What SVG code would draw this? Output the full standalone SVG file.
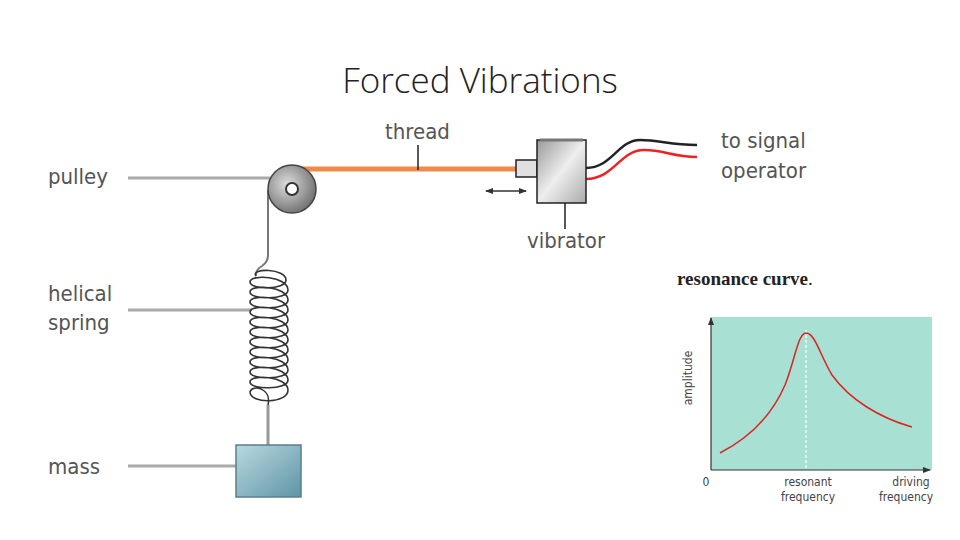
<svg xmlns="http://www.w3.org/2000/svg" width="960" height="540" viewBox="0 0 960 540">
<defs>
<style>
.lbl{font-family:"DejaVu Sans Condensed","Liberation Sans",sans-serif;font-size:22px;fill:#555}
.lead{stroke:#aaa;stroke-width:3;fill:none}
.sm{font-family:"DejaVu Sans Condensed","Liberation Sans",sans-serif;font-size:12px;fill:#444}
</style>
<linearGradient id="mg" x1="0" y1="0" x2="1" y2="1"><stop offset="0" stop-color="#b9d8df"/><stop offset="1" stop-color="#5f95a6"/></linearGradient>
<linearGradient id="vg" x1="0" y1="0" x2="1" y2="1"><stop offset="0" stop-color="#999"/><stop offset="0.5" stop-color="#eee"/><stop offset="1" stop-color="#aaa"/></linearGradient>
<radialGradient id="pg" cx="0.4" cy="0.4" r="0.7"><stop offset="0" stop-color="#ddd"/><stop offset="1" stop-color="#666"/></radialGradient>
<marker id="ah" markerWidth="8" markerHeight="8" refX="7" refY="4" orient="auto-start-reverse" markerUnits="userSpaceOnUse"><path d="M0,1 L8,4 L0,7 Z" fill="#333"/></marker>
</defs>
<rect width="960" height="540" fill="#fff"/>
<text x="480" y="93" text-anchor="middle" font-family="Open Sans,Liberation Sans,sans-serif" font-size="35" font-weight="300" fill="#222">Forced Vibrations</text>
<g id="connectors">
<line class="lead" x1="128" y1="178" x2="272" y2="178"/>
<line class="lead" x1="128" y1="310" x2="252" y2="310"/>
<line class="lead" x1="128" y1="466" x2="237" y2="466"/>
<line x1="300" y1="169" x2="518" y2="169" stroke="#f08a4b" stroke-width="5"/>
<line x1="418" y1="145" x2="418" y2="170" stroke="#222" stroke-width="1.5"/>
<line x1="565" y1="203" x2="565" y2="229" stroke="#222" stroke-width="1.5"/>
<line x1="486" y1="191" x2="526" y2="191" stroke="#333" stroke-width="1.5" marker-start="url(#ah)" marker-end="url(#ah)"/>
<path d="M268,190 L268,255 Q268,262 262,266 Q255,270 256,276" stroke="#777" stroke-width="2" fill="none"/>
<line x1="268" y1="405" x2="268" y2="446" stroke="#999" stroke-width="3"/>
<path d="M586,168 C612,168 618,140 640,140 C660,140 670,145 697,145" stroke="#222" stroke-width="2.5" fill="none"/>
<path d="M586,179 C614,179 620,150 644,150 C665,150 672,157 697,157" stroke="#e22" stroke-width="2.5" fill="none"/>
</g>
<g id="pulley">
<circle cx="292" cy="189" r="24" fill="url(#pg)" stroke="#444" stroke-width="1.5"/>
<circle cx="292" cy="189" r="6" fill="#fff" stroke="#333" stroke-width="2"/>
<text class="lbl" x="48" y="184">pulley</text>
</g>
<g id="spring" fill="none" stroke="#333" stroke-width="1.6">
<path d="M256,276 C250,268 286,268 286,280 C286,290 250,290 250,282"/>
<path d="M250,282 C250,274 288,276 288,290 C288,300 250,300 250,292 C250,284 288,286 288,300 C288,310 250,310 250,302 C250,294 288,296 288,310 C288,320 250,320 250,312 C250,304 288,306 288,320 C288,330 250,330 250,322 C250,314 288,316 288,330 C288,340 250,340 250,332 C250,324 288,326 288,340 C288,350 250,350 250,342 C250,334 288,336 288,350 C288,360 250,360 250,352 C250,344 288,346 288,360 C288,370 250,370 250,362 C250,354 288,356 288,370 C288,380 250,380 250,372 C250,364 288,366 288,380 C288,390 250,390 250,382 C250,374 288,376 288,390 C288,404 250,404 250,392 C252,384 272,388 268,405"/>
<text class="lbl" x="48" y="301" stroke="none">helical</text>
<text class="lbl" x="48" y="330" stroke="none">spring</text>
</g>
<g id="mass">
<rect x="236" y="445" width="65" height="52" fill="url(#mg)" stroke="#5a7f8c" stroke-width="1.5"/>
<text class="lbl" x="48" y="474">mass</text>
</g>
<g id="thread"><text class="lbl" x="385" y="139">thread</text></g>
<g id="vibrator">
<rect x="516" y="160" width="21" height="17" fill="#e0e0e0" stroke="#222" stroke-width="1.5"/>
<rect x="537" y="140" width="49" height="63" fill="url(#vg)" stroke="#222" stroke-width="1.5"/>
<line x1="540" y1="140" x2="583" y2="140" stroke="#777" stroke-width="3"/>
<text class="lbl" x="527" y="248">vibrator</text>
</g>
<g id="signal">
<text class="lbl" x="721" y="148">to signal</text>
<text class="lbl" x="721" y="178">operator</text>
</g>
<g id="graph">
<text x="677" y="285" font-family="Liberation Serif,serif" font-size="19" font-weight="bold" fill="#222">resonance curve<tspan font-weight="normal">.</tspan></text>
<rect x="711" y="317" width="221" height="153" fill="#a8e0d3"/>
<line x1="806" y1="330" x2="806" y2="470" stroke="#fff" stroke-width="1.2" stroke-dasharray="3,2"/>
<line x1="711" y1="470" x2="711" y2="318" stroke="#333" stroke-width="1.2" marker-end="url(#ah)"/>
<line x1="711" y1="470" x2="930" y2="470" stroke="#333" stroke-width="1.2" marker-end="url(#ah)"/>
<path d="M720,453 C745,440 770,420 785,385 C795,360 798,333 806,333 C815,333 820,355 832,375 C850,400 880,418 912,427" stroke="#d22" stroke-width="1.5" fill="none"/>
<text class="sm" x="692" y="378" text-anchor="middle" transform="rotate(-90 692 378)">amplitude</text>
<text class="sm" x="706" y="486" text-anchor="middle">0</text>
<text class="sm" x="808" y="486" text-anchor="middle">resonant</text>
<text class="sm" x="808" y="501" text-anchor="middle">frequency</text>
<text class="sm" x="911" y="486" text-anchor="middle">driving</text>
<text class="sm" x="906" y="501" text-anchor="middle">frequency</text>
</g>
</svg>
